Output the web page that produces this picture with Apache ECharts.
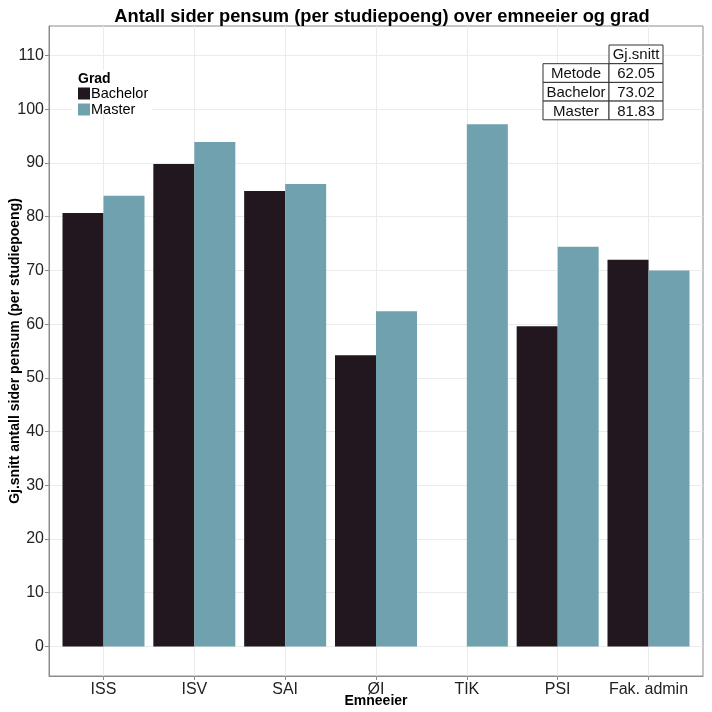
<!DOCTYPE html>
<html>
<head>
<meta charset="utf-8">
<script src="https://cdn.jsdelivr.net/npm/echarts@6/dist/echarts.min.js"></script>
<style>html,body{margin:0;padding:0;background:#fff;}#c{width:712px;height:712px;}</style>
</head>
<body>
<div id="c"></div>
<script>
const categories = ['ISS', 'ISV', 'SAI', 'ØI', 'TIK', 'PSI', 'Fak. admin'];
const bachelor = [80.7, 89.8, 84.8, 54.2, null, 59.6, 72.0];
const master = [83.9, 93.9, 86.1, 62.4, 97.2, 74.4, 70.0];
const yTicks = [0, 10, 20, 30, 40, 50, 60, 70, 80, 90, 100, 110];
const tableRows = ['Metode', 'Bachelor', 'Master'];
const tableValues = ['62.05', '73.02', '81.83'];
const tableHeader = 'Gj.snitt';

(function () {
const FONT = 'Liberation Sans, Arial, sans-serif';
const chart = echarts.init(document.getElementById('c'), null, {renderer: 'canvas'});
const xIdx = categories.map((_, i) => i);

// table graphic
const tbl = [];
const lx = 543, mx = 609, rx = 663, tTop = 45, rh = 18.7;
tbl.push({type: 'rect', shape: {x: mx, y: tTop, width: rx - mx, height: rh}, style: {fill: '#fff', stroke: '#333', lineWidth: 1}, z: 10});
tbl.push({type: 'text', x: (mx + rx) / 2, y: tTop + rh / 2 + 1, style: {text: tableHeader, font: '15px ' + FONT, fill: '#111', align: 'center', verticalAlign: 'middle'}, z: 11});
tableRows.forEach((r, i) => {
  const y = tTop + rh * (i + 1);
  tbl.push({type: 'rect', shape: {x: lx, y: y, width: mx - lx, height: rh}, style: {fill: '#fff', stroke: '#333', lineWidth: 1}, z: 10});
  tbl.push({type: 'rect', shape: {x: mx, y: y, width: rx - mx, height: rh}, style: {fill: '#fff', stroke: '#333', lineWidth: 1}, z: 10});
  tbl.push({type: 'text', x: (lx + mx) / 2, y: y + rh / 2 + 1, style: {text: r, font: '15px ' + FONT, fill: '#111', align: 'center', verticalAlign: 'middle'}, z: 11});
  tbl.push({type: 'text', x: (mx + rx) / 2, y: y + rh / 2 + 1, style: {text: tableValues[i], font: '15px ' + FONT, fill: '#111', align: 'center', verticalAlign: 'middle'}, z: 11});
});

const option = {
  animation: false,
  backgroundColor: '#fff',
  title: {
    text: 'Antall sider pensum (per studiepoeng) over emneeier og grad',
    left: 377, top: 3, textAlign: 'center',
    textStyle: {fontFamily: FONT, fontWeight: 'bold', fontSize: 18.3, color: '#000'}
  },
  grid: {left: 49, right: 9, top: 26, bottom: 36, containLabel: false, outerBoundsMode: 'none',
         show: true, borderColor: '#8c8c8c', borderWidth: 1, backgroundColor: 'transparent'},
  legend: {
    orient: 'vertical', left: 78, top: 86, itemWidth: 12, itemHeight: 12, itemGap: 1, padding: 0,
    icon: 'rect', selectedMode: false,
    textStyle: {fontFamily: FONT, fontSize: 14.5, color: '#000', padding: [0, 0, 0, -4]},
    data: ['Bachelor', 'Master'], z: 20
  },
  xAxis: {
    type: 'value', min: -0.6, max: 6.6,
    name: 'Emneeier', nameLocation: 'middle', nameGap: 18, nameMoveOverlap: false,
    nameTextStyle: {fontFamily: FONT, fontWeight: 'bold', fontSize: 14, color: '#000', verticalAlign: 'top'},
    axisLine: {show: true, onZero: false, lineStyle: {color: '#8c8c8c'}},
    axisTick: {show: true, length: 4, customValues: xIdx, lineStyle: {color: '#8c8c8c'}},
    axisLabel: {customValues: xIdx, formatter: v => categories[Math.round(v)], fontFamily: FONT, fontSize: 16, color: '#222', margin: 6},
    splitLine: {show: true, lineStyle: {color: '#ebebeb'}}
  },
  yAxis: {
    type: 'value', min: -5.5, max: 115.5,
    name: 'Gj.snitt antall sider pensum (per studiepoeng)', nameLocation: 'middle', nameGap: 27, nameMoveOverlap: false,
    nameTextStyle: {fontFamily: FONT, fontWeight: 'bold', fontSize: 14, color: '#000'},
    axisLine: {show: true, onZero: false, lineStyle: {color: '#8c8c8c'}},
    axisTick: {show: true, length: 4, customValues: yTicks, lineStyle: {color: '#8c8c8c'}},
    axisLabel: {customValues: yTicks, fontFamily: FONT, fontSize: 16, color: '#222', margin: 5},
    splitLine: {show: true, lineStyle: {color: '#ebebeb'}}
  },
  graphic: [
    {type: 'rect', shape: {x: 72, y: 70, width: 80, height: 44}, style: {fill: '#fff'}, z: 5},
    {type: 'text', x: 78, y: 79, style: {text: 'Grad', font: 'bold 14px ' + FONT, fill: '#000', verticalAlign: 'middle'}, z: 21}
  ].concat(tbl),
  series: [
    {name: 'Bachelor', type: 'bar', barWidth: 41, barGap: '0%', itemStyle: {color: '#22161f'},
     data: bachelor.map((v, i) => [i, v]).filter(d => d[1] !== null)},
    {name: 'Master', type: 'bar', barWidth: 41, barGap: '0%', itemStyle: {color: '#70a1ae'},
     data: master.map((v, i) => [i, v]).filter(d => d[1] !== null)}
  ]
};
chart.setOption(option);
})();
</script>
</body>
</html>
